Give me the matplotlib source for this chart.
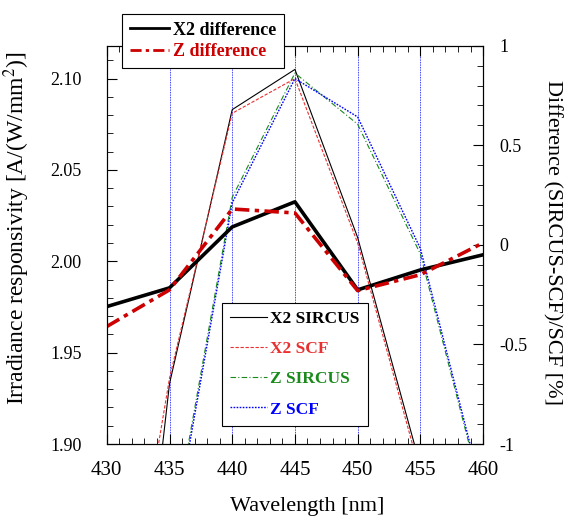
import numpy as np
import matplotlib
matplotlib.use("Agg")
import matplotlib.pyplot as plt
from matplotlib.ticker import MultipleLocator, FormatStrFormatter

plt.rcParams['font.family'] = ['Liberation Serif', 'DejaVu Serif']
plt.rcParams['mathtext.fontset'] = 'stix'

# longueurs d'onde [nm]
wl = [430, 435, 440, 445, 450, 455, 460]

# responsivite en eclairement [A/(W/mm2)]
x2_sircus = [1.63, 1.933, 2.083, 2.105, 2.013, 1.888, 1.70]
x2_scf = [1.73, 1.936, 2.081, 2.100, 2.010, 1.884, 1.70]
z_sircus = [1.60, 1.842, 2.035, 2.103, 2.075, 2.004, 1.870]
z_scf = [1.60, 1.838, 2.032, 2.100, 2.079, 2.007, 1.872]

# ecart relatif (SIRCUS-SCF)/SCF [%]
x2_diff = [-0.31, -0.216, 0.09, 0.216, -0.226, -0.126, -0.05]
z_diff = [-0.41, -0.226, 0.18, 0.16, -0.23, -0.15, 0.01]

fig = plt.figure(figsize=(5.65, 5.16), dpi=100)
ax = fig.add_axes([0.189, 0.1395, 0.666, 0.772])
ax2 = ax.twinx()

# lignes verticales de reference
for w in [435, 440, 445, 450, 455]:
    ax.axvline(w, color='blue', lw=0.6, ls=(0, (1, 1)), zorder=1)

l1, = ax.plot(wl, x2_sircus, color='black', lw=0.8, label='X2 SIRCUS')
l2, = ax.plot(wl, x2_scf, color='#e8302f', lw=0.8, ls=(0, (3, 1.5)), label='X2 SCF')
l3, = ax.plot(wl, z_sircus, color='#1a8a1a', lw=0.8, ls=(0, (5, 2, 1, 2)), label='Z SIRCUS')
l4, = ax.plot(wl, z_scf, color='blue', lw=1.0, ls=(0, (1.2, 1)), label='Z SCF')

d1, = ax2.plot(wl, x2_diff, color='black', lw=2.6, label='X2 difference')
d2, = ax2.plot(wl, z_diff, color='#cc0000', lw=2.6, ls=(0, (4, 1.5, 1.2, 1.5)), label='Z difference')

ax.set_xlim(430, 460)
ax.set_ylim(1.90, 2.118)
ax2.set_ylim(-1, 1)

ax.xaxis.set_major_locator(MultipleLocator(5))
ax.xaxis.set_minor_locator(MultipleLocator(1))
ax.yaxis.set_major_locator(MultipleLocator(0.05))
ax.yaxis.set_minor_locator(MultipleLocator(0.01))
ax.yaxis.set_major_formatter(FormatStrFormatter('%.2f'))
ax2.yaxis.set_major_locator(MultipleLocator(0.5))
ax2.yaxis.set_minor_locator(MultipleLocator(0.1))
ax2.yaxis.set_major_formatter(FormatStrFormatter('%g'))

ax.tick_params(which='both', direction='in', top=True, right=False)
ax.tick_params(axis='x', labelsize=15, pad=12)
ax.tick_params(axis='y', labelsize=13, pad=18)
ax.tick_params(which='major', length=7, width=0.8)
ax.tick_params(which='minor', length=4, width=0.6)
ax2.tick_params(which='both', direction='in', labelsize=13, pad=11.5)
ax2.tick_params(which='major', length=7, width=0.8)
ax2.tick_params(which='minor', length=4, width=0.6)

ax.set_xlabel('Wavelength [nm]', fontsize=16)
ax.xaxis.set_label_coords(0.532, -0.133)
ax.set_ylabel('Irradiance responsivity [A/(W/mm$^2$)]', fontsize=17)
ax.yaxis.set_label_coords(-0.20, 0.543)
ax2.set_ylabel('Difference (SIRCUS-SCF)/SCF [%]', fontsize=16, rotation=-90)
ax2.yaxis.set_label_coords(1.21, 0.505)

leg1 = ax2.legend(handles=[d1, d2], loc='upper left', bbox_to_anchor=(0.216, 0.973),
                  bbox_transform=fig.transFigure, fancybox=False, edgecolor='black',
                  framealpha=1, labelcolor=['black', '#cc0000'],
                  prop={'weight': 'bold', 'size': 13}, handlelength=2.2,
                  borderpad=0.42, labelspacing=0.25, handletextpad=0.2,
                  borderaxespad=0)
leg1.get_frame().set_linewidth(0.8)
for h in leg1.legend_handles:
    h.set_linewidth(2.0)
ax2.add_artist(leg1)

leg2 = ax2.legend(handles=[l1, l2, l3, l4], loc='upper left', bbox_to_anchor=(0.393, 0.413),
                  bbox_transform=fig.transFigure, fancybox=False, edgecolor='black',
                  framealpha=1, labelcolor=['black', '#e8302f', '#1a8a1a', 'blue'],
                  prop={'weight': 'bold', 'size': 12.5}, handlelength=2.1,
                  borderpad=0.48, labelspacing=0.8, handletextpad=0.2,
                  borderaxespad=0)
leg2.get_frame().set_linewidth(0.8)

fig.savefig('out.png', dpi=100)
